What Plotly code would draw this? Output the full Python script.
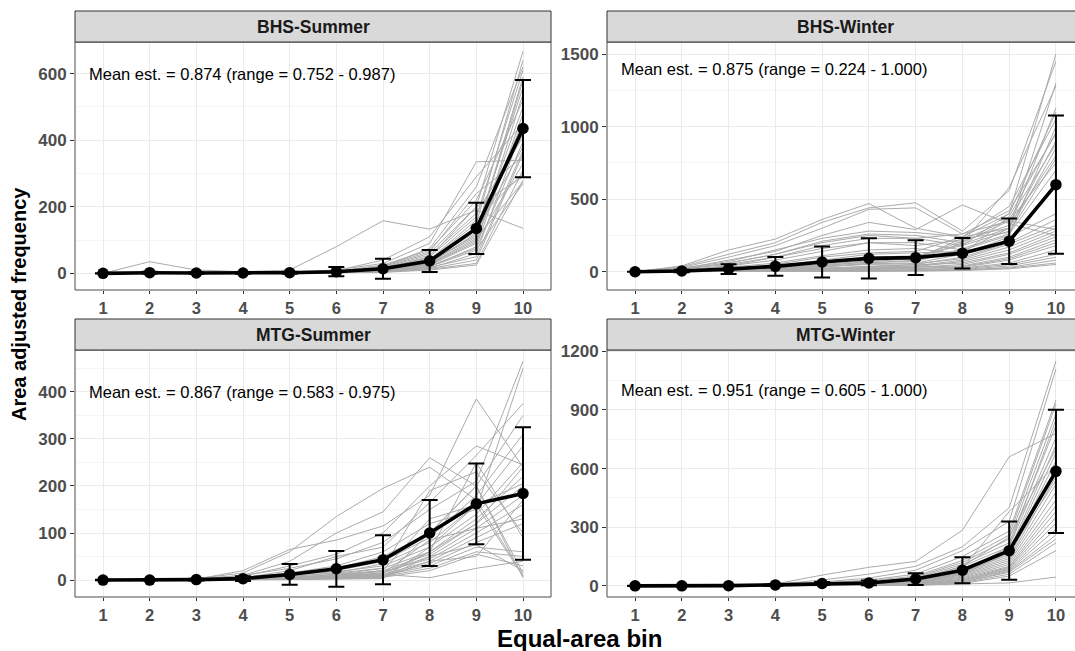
import plotly.graph_objects as go

bins = [1, 2, 3, 4, 5, 6, 7, 8, 9, 10]
bin_labels = ["1", "2", "3", "4", "5", "6", "7", "8", "9", "10"]
panel_titles = ["BHS-Summer", "BHS-Winter", "MTG-Summer", "MTG-Winter"]
panel_notes = [
    "Mean est. = 0.874 (range = 0.752 - 0.987)",
    "Mean est. = 0.875 (range = 0.224 - 1.000)",
    "Mean est. = 0.867 (range = 0.583 - 0.975)",
    "Mean est. = 0.951 (range = 0.605 - 1.000)",
]

# mean curves and error half-widths
bhs_summer_mean = [0, 2, 1, 1, 2, 5, 14, 37, 135, 435]
bhs_summer_err = [0.5, 3, 2, 2, 3, 14, 30, 33, 77, 146]
bhs_winter_mean = [0, 5, 18, 37, 67, 92, 97, 128, 210, 600]
bhs_winter_err = [0.5, 8, 33, 65, 106, 138, 120, 105, 157, 477]
mtg_summer_mean = [0, 0, 1, 3, 12, 24, 43, 100, 162, 184]
mtg_summer_err = [0.5, 0.5, 2, 5, 22, 38, 52, 70, 86, 141]
mtg_winter_mean = [0, 0, 1, 5, 12, 15, 35, 80, 180, 586]
mtg_winter_err = [0.5, 0.5, 2, 4, 8, 12, 30, 66, 149, 315]

# individual replicate curves (grey)
bhs_summer_runs = [
    [0, 35, 10, 5, 5, 10, 30, 90, 335, 340],
    [0, 2, 3, 5, 10, 80, 158, 133, 190, 135],
    [0, 1, 1, 2, 3, 5, 20, 60, 200, 667],
    [0, 0, 1, 1, 2, 3, 10, 40, 150, 640],
    [0, 1, 0, 1, 1, 5, 15, 50, 170, 610],
    [0, 0, 1, 0, 2, 4, 8, 30, 120, 590],
    [0, 1, 2, 1, 2, 3, 12, 45, 130, 560],
    [0, 0, 0, 1, 1, 2, 5, 25, 90, 540],
    [0, 1, 1, 1, 3, 6, 25, 70, 220, 520],
    [0, 0, 1, 2, 2, 4, 10, 35, 110, 500],
    [0, 1, 0, 1, 1, 2, 6, 20, 80, 480],
    [0, 0, 1, 1, 2, 3, 8, 28, 100, 460],
    [0, 2, 1, 1, 2, 8, 40, 110, 290, 450],
    [0, 0, 0, 0, 1, 2, 4, 15, 60, 440],
    [0, 1, 1, 1, 1, 3, 9, 32, 140, 420],
    [0, 0, 1, 1, 2, 5, 18, 55, 180, 410],
    [0, 1, 0, 1, 1, 2, 7, 22, 75, 395],
    [0, 0, 1, 0, 2, 4, 12, 38, 125, 380],
    [0, 1, 1, 1, 1, 3, 6, 18, 50, 370],
    [0, 0, 0, 1, 2, 2, 5, 14, 40, 360],
    [0, 1, 1, 2, 3, 6, 22, 65, 240, 350],
    [0, 0, 1, 1, 1, 3, 8, 26, 95, 330],
    [0, 1, 0, 0, 2, 2, 4, 12, 30, 310],
    [0, 0, 1, 1, 1, 4, 14, 42, 160, 300],
    [0, 1, 1, 1, 2, 5, 16, 48, 200, 290],
    [0, 0, 0, 1, 1, 2, 3, 10, 25, 280],
    [0, 1, 1, 1, 2, 3, 10, 30, 105, 275],
    [0, 0, 1, 0, 1, 2, 6, 20, 70, 270],
    [0, 1, 0, 1, 2, 4, 20, 75, 260, 620],
    [0, 0, 1, 1, 1, 3, 11, 36, 115, 580],
]
bhs_winter_runs = [
    [0, 40, 150, 225, 360, 470, 300, 240, 400, 1500],
    [0, 35, 120, 200, 340, 440, 475, 280, 560, 1450],
    [0, 30, 100, 180, 300, 430, 440, 260, 350, 290],
    [0, 20, 80, 140, 250, 340, 290, 460, 330, 250],
    [0, 25, 70, 150, 230, 280, 270, 240, 300, 1300],
    [0, 15, 60, 120, 210, 260, 250, 200, 580, 1280],
    [0, 20, 50, 100, 180, 230, 230, 180, 400, 1100],
    [0, 10, 40, 80, 140, 200, 200, 150, 250, 1000],
    [0, 8, 30, 60, 110, 150, 160, 120, 380, 960],
    [0, 5, 20, 40, 80, 120, 130, 140, 300, 900],
    [0, 6, 15, 30, 60, 100, 110, 180, 280, 850],
    [0, 4, 10, 25, 50, 80, 100, 210, 320, 800],
    [0, 3, 8, 20, 40, 70, 90, 230, 270, 780],
    [0, 2, 6, 15, 30, 60, 80, 200, 350, 750],
    [0, 5, 12, 25, 45, 65, 70, 160, 260, 700],
    [0, 3, 8, 18, 35, 55, 60, 120, 240, 400],
    [0, 2, 5, 12, 25, 40, 50, 100, 200, 360],
    [0, 4, 10, 20, 35, 50, 55, 90, 190, 320],
    [0, 2, 4, 10, 20, 30, 40, 80, 170, 300],
    [0, 1, 3, 8, 15, 25, 35, 70, 150, 280],
    [0, 3, 6, 12, 22, 35, 45, 60, 130, 260],
    [0, 1, 2, 5, 10, 20, 30, 50, 120, 240],
    [0, 2, 4, 8, 15, 25, 30, 40, 100, 220],
    [0, 1, 2, 4, 8, 15, 20, 35, 90, 200],
    [0, 2, 3, 6, 12, 18, 25, 30, 80, 180],
    [0, 1, 2, 3, 6, 10, 15, 25, 60, 150],
    [0, 0, 1, 2, 4, 8, 10, 20, 50, 120],
    [0, 1, 1, 2, 3, 5, 8, 15, 40, 100],
    [0, 0, 1, 1, 2, 4, 6, 10, 30, 80],
    [0, 1, 1, 2, 3, 5, 8, 12, 25, 60],
    [0, 0, 0, 1, 2, 3, 5, 8, 20, 50],
    [0, 20, 60, 120, 200, 250, 230, 260, 420, 950],
    [0, 10, 40, 100, 160, 200, 180, 220, 360, 880],
    [0, 5, 20, 50, 100, 130, 140, 240, 450, 1050],
    [0, 3, 10, 30, 60, 90, 100, 190, 300, 1130],
]
mtg_summer_runs = [
    [0, 0, 2, 10, 40, 100, 145, 260, 200, 5],
    [0, 0, 3, 15, 60, 135, 195, 240, 170, 10],
    [0, 0, 2, 20, 65, 85, 115, 180, 385, 240],
    [0, 0, 1, 8, 30, 55, 100, 200, 285, 245],
    [0, 0, 1, 5, 20, 50, 70, 165, 265, 375],
    [0, 0, 2, 10, 25, 45, 80, 150, 210, 465],
    [0, 0, 1, 6, 15, 30, 60, 120, 150, 450],
    [0, 0, 0, 3, 10, 25, 50, 100, 200, 350],
    [0, 0, 1, 4, 12, 20, 40, 90, 180, 310],
    [0, 0, 0, 2, 8, 15, 35, 80, 160, 285],
    [0, 0, 1, 3, 10, 18, 30, 70, 140, 250],
    [0, 0, 0, 2, 5, 12, 25, 60, 130, 220],
    [0, 0, 1, 2, 6, 10, 20, 55, 120, 200],
    [0, 0, 0, 1, 4, 8, 15, 50, 110, 180],
    [0, 0, 1, 2, 5, 10, 18, 45, 100, 160],
    [0, 0, 0, 1, 3, 6, 12, 40, 90, 140],
    [0, 0, 0, 1, 2, 5, 10, 35, 80, 120],
    [0, 0, 1, 2, 4, 8, 14, 60, 250, 90],
    [0, 0, 0, 1, 3, 6, 10, 30, 70, 60],
    [0, 0, 0, 1, 2, 4, 8, 25, 60, 50],
    [0, 0, 1, 2, 4, 7, 12, 5, 25, 40],
    [0, 0, 0, 1, 2, 4, 6, 20, 55, 30],
    [0, 0, 0, 1, 1, 3, 5, 50, 75, 20],
    [0, 0, 1, 1, 2, 3, 4, 100, 200, 15],
    [0, 0, 0, 0, 1, 2, 3, 70, 160, 8],
    [0, 0, 1, 3, 8, 15, 25, 190, 230, 100],
    [0, 0, 0, 2, 6, 12, 20, 130, 160, 205],
    [0, 0, 1, 1, 3, 5, 8, 60, 120, 240],
    [0, 0, 0, 1, 2, 4, 6, 40, 50, 170],
    [0, 0, 1, 2, 5, 9, 15, 85, 110, 130],
]
mtg_winter_runs = [
    [0, 0, 2, 10, 55, 95, 125, 285, 660, 780],
    [0, 0, 1, 8, 30, 60, 100, 200, 400, 1150],
    [0, 0, 1, 6, 20, 40, 80, 180, 330, 1110],
    [0, 0, 1, 5, 15, 30, 60, 150, 280, 950],
    [0, 0, 0, 4, 12, 25, 50, 130, 260, 930],
    [0, 0, 1, 3, 10, 20, 45, 120, 240, 880],
    [0, 0, 0, 3, 8, 18, 40, 110, 220, 820],
    [0, 0, 1, 2, 7, 15, 35, 100, 200, 760],
    [0, 0, 0, 2, 6, 12, 30, 90, 180, 720],
    [0, 0, 1, 2, 5, 10, 28, 80, 170, 680],
    [0, 0, 0, 1, 4, 9, 25, 70, 160, 640],
    [0, 0, 1, 2, 5, 10, 22, 65, 150, 600],
    [0, 0, 0, 1, 3, 8, 20, 60, 140, 560],
    [0, 0, 1, 1, 3, 7, 18, 55, 130, 520],
    [0, 0, 0, 1, 2, 6, 15, 50, 120, 480],
    [0, 0, 1, 1, 2, 5, 14, 45, 110, 440],
    [0, 0, 0, 1, 2, 5, 12, 40, 100, 410],
    [0, 0, 1, 1, 2, 4, 10, 35, 95, 380],
    [0, 0, 0, 1, 2, 4, 9, 30, 90, 350],
    [0, 0, 1, 1, 1, 3, 8, 28, 85, 320],
    [0, 0, 0, 1, 1, 3, 7, 25, 80, 290],
    [0, 0, 1, 1, 1, 2, 6, 20, 75, 260],
    [0, 0, 0, 0, 1, 2, 5, 18, 70, 240],
    [0, 0, 1, 1, 1, 2, 4, 15, 60, 220],
    [0, 0, 0, 0, 1, 2, 4, 12, 50, 180],
    [0, 0, 0, 0, 1, 1, 3, 10, 15, 45],
    [0, 0, 1, 2, 6, 12, 30, 100, 250, 700],
    [0, 0, 0, 1, 3, 8, 20, 70, 200, 850],
    [0, 0, 1, 2, 4, 10, 25, 90, 380, 620],
    [0, 0, 0, 1, 3, 6, 18, 60, 170, 540],
]

means = [bhs_summer_mean, bhs_winter_mean, mtg_summer_mean, mtg_winter_mean]
errs = [bhs_summer_err, bhs_winter_err, mtg_summer_err, mtg_winter_err]
runs = [bhs_summer_runs, bhs_winter_runs, mtg_summer_runs, mtg_winter_runs]
y_ranges = [[-50, 695], [-126, 1583], [-36, 489], [-57, 1207]]
y_dtick = [200, 500, 100, 300]
note_y = [600, 1400, 400, 1000]

W, H = 1075, 651
FONT = "Liberation Sans, Arial, sans-serif"

# pixel geometry
left_x = (75, 551)
right_x = (607, 1084)
top_plot = (42, 290)
top_strip = (11, 42)
bot_plot = (350, 597)
bot_strip = (319, 350)

def px(v):
    return v / W

def py(v):
    return 1 - v / H

fig = go.Figure()

panels = [(left_x, top_plot, top_strip), (right_x, top_plot, top_strip),
          (left_x, bot_plot, bot_strip), (right_x, bot_plot, bot_strip)]

shapes = []
annotations = []
for i in range(4):
    xs, yp, ys = panels[i]
    sfx = "" if i == 0 else str(i + 1)
    xa, ya = "x" + sfx, "y" + sfx
    for r in runs[i]:
        fig.add_trace(go.Scatter(x=bins, y=r, mode="lines", xaxis=xa, yaxis=ya,
                                 line=dict(color="#ababab", width=1), showlegend=False,
                                 hoverinfo="skip"))
    fig.add_trace(go.Scatter(x=bins, y=means[i], mode="lines+markers", xaxis=xa, yaxis=ya,
                             line=dict(color="black", width=3.6),
                             marker=dict(color="black", size=11.5),
                             error_y=dict(type="data", array=errs[i], visible=True,
                                          color="black", thickness=2, width=8),
                             showlegend=False))
    x0, x1 = xs
    dom_x = [px(x0), min(1.0, px(x1))]
    unit = (x1 - x0) / 10.2
    xr_hi = 10.6 if x1 <= W else 10.6 - (x1 - W) / unit
    xfont = dict(family=FONT, size=16.5, color="#4d4d4d", weight="bold")
    yfont = dict(family=FONT, size=17, color="#4d4d4d", weight="bold")
    fig.update_layout(**{
        ("xaxis" + sfx): dict(domain=dom_x, anchor=ya, range=[0.4, xr_hi],
                               tickmode="array", tickvals=bins, ticktext=bin_labels,
                               showgrid=True, gridcolor="#ebebeb", gridwidth=1,
                               zeroline=False, ticks="outside", ticklen=3,
                               tickcolor="#333333", tickwidth=1, automargin=False,
                               tickfont=xfont, showline=False, fixedrange=True),
        ("yaxis" + sfx): dict(domain=[py(yp[1]), py(yp[0])], anchor=xa,
                               range=y_ranges[i], dtick=y_dtick[i], tick0=0,
                               showgrid=True, gridcolor="#ebebeb", gridwidth=1,
                               minor=dict(dtick=y_dtick[i] / 2, tick0=0, showgrid=True,
                                          gridcolor="#f5f5f5", gridwidth=0.6, ticks=""),
                               zeroline=False, ticks="outside", ticklen=4,
                               tickcolor="#333333", tickwidth=1, automargin=False,
                               tickfont=yfont, showline=False, fixedrange=True),
    })
    bc = "#4d4d4d"
    shapes.append(dict(type="rect", xref="paper", yref="paper",
                       x0=px(x0), x1=px(x1), y0=py(yp[1]), y1=py(yp[0]),
                       line=dict(color=bc, width=1), fillcolor="rgba(0,0,0,0)",
                       layer="above"))
    shapes.append(dict(type="rect", xref="paper", yref="paper",
                       x0=px(x0), x1=px(x1), y0=py(ys[1]), y1=py(ys[0]),
                       line=dict(color="#333333", width=1), fillcolor="#d9d9d9",
                       layer="above"))
    annotations.append(dict(xref="paper", yref="paper",
                            x=px((x0 + x1) / 2), y=py((ys[0] + ys[1]) / 2),
                            text="<b>" + panel_titles[i] + "</b>", showarrow=False,
                            xanchor="center", yanchor="middle",
                            font=dict(family=FONT, size=17.5, color="#1a1a1a")))
    annotations.append(dict(xref=xa, yref=ya, x=0.66, y=note_y[i],
                            text=panel_notes[i], showarrow=False,
                            xanchor="left", yanchor="middle",
                            font=dict(family=FONT, size=16.5, color="black")))

annotations.append(dict(xref="paper", yref="paper", x=px(579.5), y=-2 / H,
                        text="<b>Equal-area bin</b>", showarrow=False,
                        xanchor="center", yanchor="bottom", borderpad=0,
                        font=dict(family=FONT, size=24, color="black")))
annotations.append(dict(xref="paper", yref="paper", x=px(19), y=py(304),
                        text="<b>Area adjusted frequency</b>", showarrow=False,
                        textangle=-90, xanchor="center", yanchor="middle",
                        font=dict(family=FONT, size=20, color="black")))

fig.update_layout(width=W, height=H, margin=dict(l=0, r=0, t=0, b=0),
                  paper_bgcolor="white", plot_bgcolor="white",
                  shapes=shapes, annotations=annotations, showlegend=False,
                  font=dict(family=FONT))

fig.write_html("out.html", config={"displayModeBar": False},
               post_script="document.body.style.margin='0';document.body.style.overflow='hidden';")
